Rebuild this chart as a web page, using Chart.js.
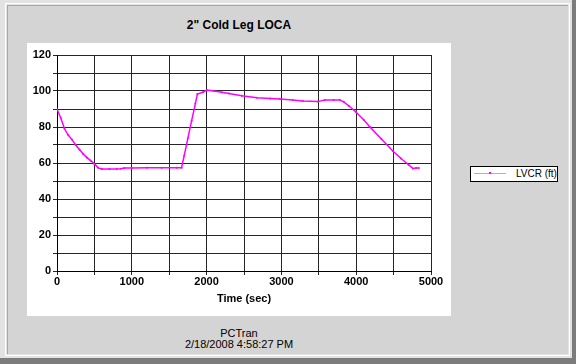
<!DOCTYPE html>
<html>
<head>
<meta charset="utf-8">
<script src="https://cdn.jsdelivr.net/npm/chart.js@4"></script>
<style>
  body { margin: 0; width: 576px; height: 364px; background: #e2e2e2; position: relative; overflow: hidden;
         font-family: "Liberation Sans", Arial, sans-serif; }
  .band-b { position: absolute; left: 0; top: 358px; width: 576px; height: 6px; background: #7c7c7c; }
  .band-r { position: absolute; left: 572px; top: 0; width: 4px; height: 364px; background: #7c7c7c; }
  .outline { position: absolute; left: 5px; top: 3px; width: 565px; height: 353px; border: 1px solid #fff; box-sizing: border-box; }
  .panel { position: absolute; left: 7px; top: 5px; width: 561px; height: 349px; background: #d4d4d4;
           border-left: 1px solid #a8a8a8; border-top: 1px solid #a8a8a8; box-sizing: border-box; }
  .title { position: absolute; left: 27px; width: 424px; top: 18px; text-align: center; font-weight: bold; font-size: 12px; color: #000; }
  .plot { position: absolute; left: 27px; top: 43px; width: 424px; height: 273px; background: #fff; }
  .footer { position: absolute; left: 27px; width: 424px; top: 328px; text-align: center; font-size: 11px; line-height: 11px; color: #000; }
  .legend { position: absolute; left: 470px; top: 166px; width: 88px; height: 16px; background: #fff; border: 1px solid #000;
            box-sizing: border-box; font-size: 10px; }
  .legend .swatch { position: absolute; left: 3px; top: 6px; width: 32px; height: 1px; }
  .legend .dot { position: absolute; left: 18px; top: 5px; width: 2px; height: 2px; }
  .legend .lbl { position: absolute; left: 45px; top: 1px; white-space: nowrap; }
</style>
</head>
<body>
<div class="band-b"></div>
<div class="band-r"></div>
<div class="outline"></div>
<div class="panel"></div>
<div class="title">2" Cold Leg LOCA</div>
<div class="plot"><canvas id="chart" width="424" height="273"></canvas></div>
<div class="legend" id="legend"></div>
<div class="footer">PCTran<br>2/18/2008 4:58:27 PM</div>
<script>
// LVCR level during a 2" cold leg LOCA
const seriesName = "LVCR (ft)";
const lineColor = "#ff00ff";
const timeSec = [0, 50, 100, 150, 200, 250, 300, 350, 400, 450, 500, 550, 600, 700, 800, 850, 900, 1000, 1200, 1400, 1600, 1665,
  1700, 1750, 1800, 1850, 1877, 1950, 2003, 2100, 2200, 2300, 2470, 2673, 2850, 2980, 3150, 3287, 3487, 3580, 3700, 3780,
  3833, 3900, 3993, 4100, 4180, 4337, 4490, 4600, 4700, 4757, 4800, 4837];
const lvcr = [90, 85, 79, 75.5, 73, 70, 67.5, 65, 63, 61.3, 59.5, 57.3, 56.7, 56.7, 56.7, 56.8, 57.2, 57.2, 57.3, 57.3, 57.3, 57.4,
  64, 73.8, 83.5, 93, 98.3, 99.3, 100.5, 100, 99.3, 98.6, 97.4, 96.3, 95.9, 95.5, 95, 94.4, 94.1, 95, 95, 95,
  94, 91.8, 88.5, 84, 80.2, 73.3, 66.7, 62.5, 59, 57, 57.2, 57.2];
const xTickStep = 500, xLabelStep = 1000;
const yTickStep = 10, yLabelStep = 20;

const points = timeSec.map((t, i) => ({ x: t, y: lvcr[i] }));
const gridColor = "#262626";
const tickFont = { family: "Liberation Sans", size: 11, weight: "bold" };

const ctx = document.getElementById("chart").getContext("2d");
const chart = new Chart(ctx, {
  type: "line",
  data: {
    datasets: [{
      label: seriesName,
      data: points,
      borderColor: lineColor,
      backgroundColor: lineColor,
      borderWidth: 1.5,
      pointRadius: 1,
      pointBorderWidth: 0,
      tension: 0
    }]
  },
  options: {
    responsive: false,
    animation: false,
    layout: { padding: { top: 12, right: 20, left: 0, bottom: 10 } },
    plugins: { legend: { display: false }, title: { display: false }, tooltip: { enabled: false } },
    scales: {
      x: {
        type: "linear", min: 0, max: 5000,
        afterFit: s => { s.height = 35; },
        grid: { color: gridColor, tickLength: 4, tickColor: gridColor },
        border: { color: "#000" },
        ticks: { stepSize: xTickStep, color: "#000", font: tickFont, maxRotation: 0, autoSkip: false, padding: 0,
          callback: v => (v % xLabelStep === 0 ? v : "") },
        title: { display: true, text: "Time (sec)", color: "#000", font: tickFont, padding: { top: 0, bottom: 0 } }
      },
      y: {
        min: 0, max: 120,
        afterFit: s => { s.width = 30; },
        grid: { color: gridColor, tickLength: 4, tickColor: gridColor },
        border: { color: "#000" },
        ticks: { stepSize: yTickStep, color: "#000", font: tickFont, autoSkip: false, padding: 2,
          callback: v => (v % yLabelStep === 0 ? v : "") }
      }
    }
  }
});

// legend drawn from the dataset
const ds = chart.data.datasets[0];
document.getElementById("legend").innerHTML =
  '<div class="swatch" style="background:' + ds.borderColor + ';opacity:0.5"></div>' +
  '<div class="dot" style="background:' + ds.borderColor + '"></div>' +
  '<div class="lbl">' + ds.label + '</div>';
</script>
</body>
</html>
